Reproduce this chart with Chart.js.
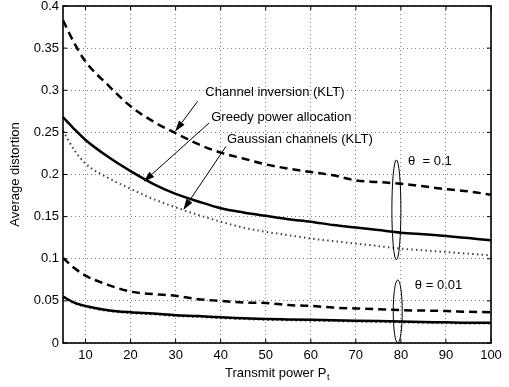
<!DOCTYPE html>
<html>
<head>
<meta charset="utf-8">
<script src="https://cdn.jsdelivr.net/npm/chart.js@4.4.1/dist/chart.umd.min.js"></script>
<style>
  html, body { margin: 0; padding: 0; background: #fff; }
  #wrap { width: 509px; height: 387px; }
</style>
</head>
<body>
<div id="wrap"><canvas id="chart" width="509" height="387"></canvas></div>
<script>
// transmit power P_t
const power = [5, 7.5, 10, 15, 20, 25, 30, 35, 40, 45, 50, 55, 60, 65, 70, 75, 80, 85, 90, 95, 100];

// theta = 0.1
const invHigh    = [0.383, 0.356, 0.334, 0.306, 0.281, 0.263, 0.249, 0.236, 0.226, 0.219, 0.212, 0.207, 0.203, 0.199, 0.193, 0.191, 0.189, 0.186, 0.1825, 0.180, 0.176];
const greedyHigh = [0.268, 0.254, 0.241, 0.221, 0.204, 0.189, 0.177, 0.168, 0.160, 0.155, 0.151, 0.147, 0.144, 0.140, 0.137, 0.134, 0.131, 0.129, 0.127, 0.1245, 0.122];
const gaussHigh  = [0.252, 0.229, 0.213, 0.196, 0.183, 0.171, 0.161, 0.152, 0.144, 0.137, 0.132, 0.128, 0.124, 0.121, 0.118, 0.115, 0.112, 0.110, 0.108, 0.106, 0.104];

// theta = 0.01
const invLow    = [0.101, 0.089, 0.080, 0.069, 0.061, 0.058, 0.056, 0.052, 0.050, 0.048, 0.0475, 0.045, 0.044, 0.042, 0.041, 0.040, 0.039, 0.0385, 0.038, 0.037, 0.0365];
const greedyLow = [0.055, 0.048, 0.044, 0.039, 0.0365, 0.035, 0.033, 0.032, 0.0305, 0.0295, 0.0285, 0.028, 0.0275, 0.027, 0.0265, 0.026, 0.0255, 0.025, 0.0245, 0.024, 0.024];
const gaussLow  = [0.054, 0.047, 0.043, 0.038, 0.0355, 0.034, 0.032, 0.031, 0.0295, 0.0285, 0.0275, 0.027, 0.0265, 0.026, 0.0255, 0.025, 0.0245, 0.024, 0.0235, 0.023, 0.023];

const xTicks = [10, 20, 30, 40, 50, 60, 70, 80, 90, 100];
const yTicks = [0, 0.05, 0.1, 0.15, 0.2, 0.25, 0.3, 0.35, 0.4];
const yTickLabels = ["0", "0.05", "0.1", "0.15", "0.2", "0.25", "0.3", "0.35", "0.4"];

const FONT = "'Liberation Sans', Arial, Helvetica, sans-serif";

// annotation text + arrows, in data units
const notes = [
  { text: "Channel inversion (KLT)", at: [36.6, 0.297], from: [34.9, 0.287], to: [29.9, 0.251] },
  { text: "Greedy power allocation", at: [37.9, 0.268], from: [37.4, 0.261], to: [22.9, 0.1914] },
  { text: "Gaussian channels (KLT)", at: [41.4, 0.2415], from: [41.2, 0.2335], to: [31.7, 0.158] },
];
const groups = [
  { text: "\u03b8  = 0.1", center: [79, 0.158], ry: 0.0593, label: [81.6, 0.216] },
  { text: "\u03b8 = 0.01", center: [79.3, 0.0374], ry: 0.0374, label: [83.1, 0.0688] },
];

const pts = (ys) => power.map((p, i) => ({ x: p, y: ys[i] }));

function line(label, ys, style) {
  return Object.assign({
    label,
    data: pts(ys),
    borderColor: "#000",
    borderWidth: 2.5,
    pointRadius: 0,
    cubicInterpolationMode: "monotone",
    fill: false,
  }, style);
}

const dashed = { borderDash: [8, 5] };
const dotted = { borderDash: [1.5, 3.2], borderWidth: 2, borderColor: "#444" };

function arrow(ctx, x1, y1, x2, y2) {
  const ang = Math.atan2(y2 - y1, x2 - x1);
  const len = 11, half = 3.5;
  const bx = x2 - len * Math.cos(ang), by = y2 - len * Math.sin(ang);
  ctx.beginPath();
  ctx.moveTo(x1, y1);
  ctx.lineTo(bx, by);
  ctx.stroke();
  ctx.beginPath();
  ctx.moveTo(x2, y2);
  ctx.lineTo(bx + half * Math.sin(ang), by - half * Math.cos(ang));
  ctx.lineTo(bx - half * Math.sin(ang), by + half * Math.cos(ang));
  ctx.closePath();
  ctx.fill();
}

const matlabDecor = {
  id: "matlabDecor",
  afterDatasetsDraw(chart) {
    const { ctx, chartArea: a, scales: { x, y } } = chart;
    const px = (v) => x.getPixelForValue(v);
    const py = (v) => y.getPixelForValue(v);
    ctx.save();
    ctx.strokeStyle = "#000";
    ctx.fillStyle = "#000";

    // inward tick marks
    ctx.lineWidth = 1;
    ctx.beginPath();
    xTicks.forEach((v) => {
      const p = px(v);
      ctx.moveTo(p, a.bottom); ctx.lineTo(p, a.bottom - 4);
      ctx.moveTo(p, a.top); ctx.lineTo(p, a.top + 4);
    });
    yTicks.forEach((v) => {
      const p = py(v);
      ctx.moveTo(a.left, p); ctx.lineTo(a.left + 4, p);
      ctx.moveTo(a.right, p); ctx.lineTo(a.right - 4, p);
    });
    ctx.stroke();

    // box
    ctx.lineWidth = 1.6;
    ctx.strokeRect(a.left, a.top, a.right - a.left, a.bottom - a.top);

    // callouts
    ctx.font = "13px " + FONT;
    ctx.textBaseline = "middle";
    ctx.textAlign = "left";
    ctx.lineWidth = 1;
    notes.forEach((n) => {
      ctx.fillText(n.text, px(n.at[0]), py(n.at[1]));
      arrow(ctx, px(n.from[0]), py(n.from[1]), px(n.to[0]), py(n.to[1]));
    });

    // theta groups
    groups.forEach((g) => {
      const cx = px(g.center[0]), cy = py(g.center[1]);
      const rx = px(g.center[0] + 1) - px(g.center[0]);
      const ry = py(g.center[1] - g.ry) - cy;
      ctx.beginPath();
      ctx.ellipse(cx, cy, rx, ry, 0, 0, Math.PI * 2);
      ctx.stroke();
      ctx.fillText(g.text, px(g.label[0]), py(g.label[1]));
    });

    // axis titles
    const midX = (a.left + a.right) / 2;
    const main = "Transmit power P";
    ctx.font = "13px " + FONT;
    const w1 = ctx.measureText(main).width;
    ctx.font = "9px " + FONT;
    const w2 = ctx.measureText("t").width;
    const sx = midX - (w1 + w2) / 2;
    ctx.font = "13px " + FONT;
    ctx.fillText(main, sx, 373);
    ctx.font = "9px " + FONT;
    ctx.fillText("t", sx + w1 + 0.5, 378);

    ctx.font = "13px " + FONT;
    ctx.translate(15, (a.top + a.bottom) / 2);
    ctx.rotate(-Math.PI / 2);
    ctx.textAlign = "center";
    ctx.fillText("Average distortion", 0, 0);
    ctx.restore();
  },
};

new Chart(document.getElementById("chart"), {
  type: "line",
  data: {
    datasets: [
      line("Channel inversion (KLT), \u03b8=0.1", invHigh, dashed),
      line("Greedy power allocation, \u03b8=0.1", greedyHigh, {}),
      line("Gaussian channels (KLT), \u03b8=0.1", gaussHigh, dotted),
      line("Channel inversion (KLT), \u03b8=0.01", invLow, dashed),
      line("Greedy power allocation, \u03b8=0.01", greedyLow, {}),
      line("Gaussian channels (KLT), \u03b8=0.01", gaussLow, dotted),
    ],
  },
  options: {
    responsive: false,
    animation: false,
    events: [],
    layout: { padding: { top: 6, right: 18, left: 0, bottom: 0 } },
    plugins: { legend: { display: false }, tooltip: { enabled: false } },
    scales: {
      x: {
        type: "linear",
        min: 5,
        max: 100,
        afterBuildTicks: (s) => { s.ticks = xTicks.map((v) => ({ value: v })); },
        afterFit: (s) => { s.height = 44; s.paddingLeft = 0; s.paddingRight = 0; },
        ticks: { color: "#000", padding: 5, font: { family: FONT, size: 13 }, maxRotation: 0 },
        grid: { color: "rgba(0,0,0,0.5)", lineWidth: 1, drawTicks: false },
        border: { display: false, dash: [1, 3] },
      },
      y: {
        type: "linear",
        min: 0,
        max: 0.4,
        afterBuildTicks: (s) => { s.ticks = yTicks.map((v) => ({ value: v })); },
        afterFit: (s) => { s.width = 63; s.paddingTop = 0; s.paddingBottom = 0; },
        ticks: {
          color: "#000",
          padding: 4,
          font: { family: FONT, size: 13 },
          callback: (v, i) => yTickLabels[i],
        },
        grid: { color: "rgba(0,0,0,0.5)", lineWidth: 1, drawTicks: false },
        border: { display: false, dash: [1, 3] },
      },
    },
  },
  plugins: [matlabDecor],
});
</script>
</body>
</html>
